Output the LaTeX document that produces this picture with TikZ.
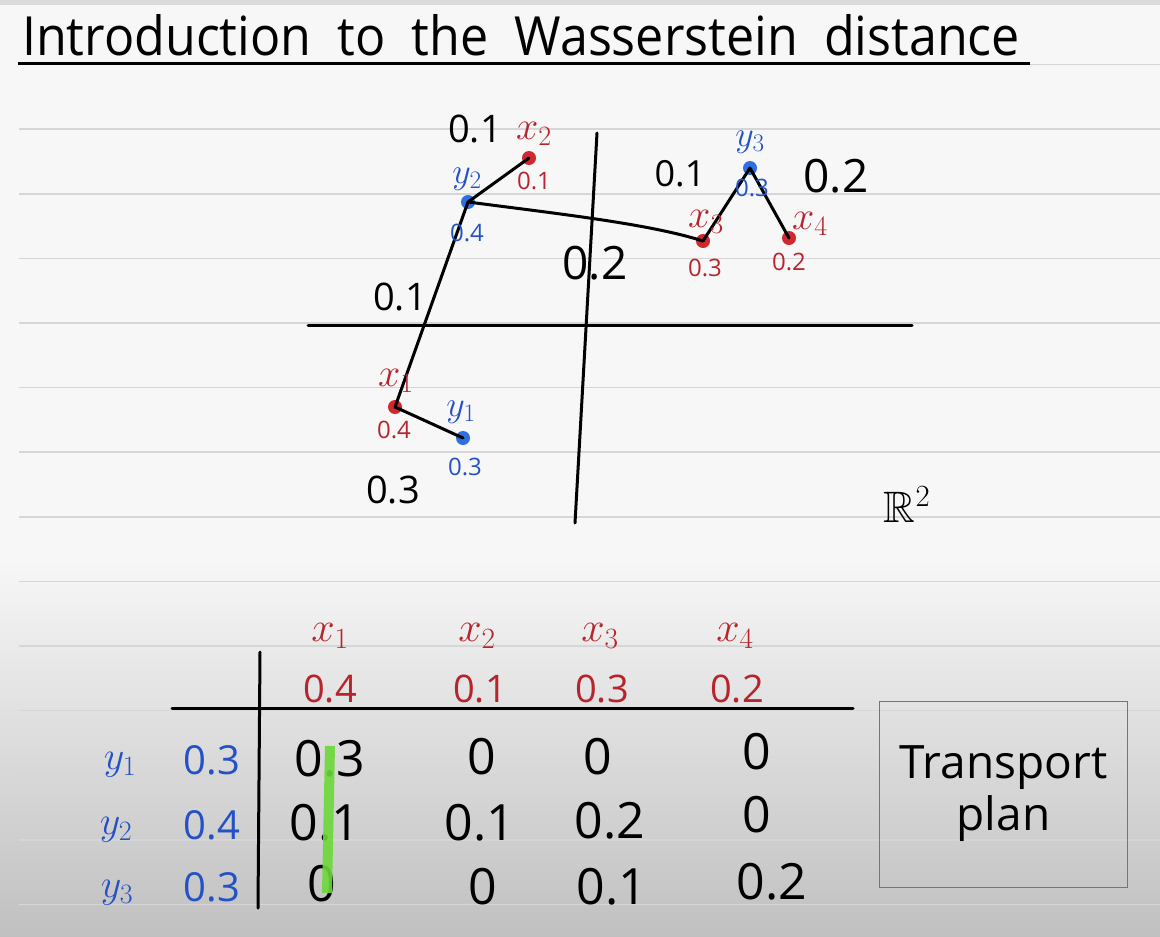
\RequirePackage{fix-cm}
\documentclass[tikz,border=0pt]{standalone}
\usepackage{amssymb}
\usepackage{fontspec}
\setmainfont{Open Sans}
\usetikzlibrary{positioning, calc}
\definecolor{inkred}{HTML}{B8242C}
\definecolor{inkblue}{HTML}{2452C4}
\definecolor{dotred}{HTML}{D0282C}
\definecolor{dotblue}{HTML}{2F6FE0}
\definecolor{hilite}{HTML}{6CD83A}
\definecolor{boxred}{HTML}{E0464C}
\definecolor{paper}{HTML}{F7F7F7}
\definecolor{paperlow}{HTML}{C0C0C0}
\newcommand{\handsz}[1]{\fontsize{#1}{#1}\selectfont}

\begin{document}
\begin{tikzpicture}[x=1pt, y=-1pt,
    dot/.style={circle, inner sep=0pt, minimum size=14pt},
    xdot/.style={dot, fill=dotred},
    ydot/.style={dot, fill=dotblue},
    edge/.style={black, line width=3pt, line cap=round},
    axis/.style={black, line width=3pt, line cap=round},
    rule/.style={black!16, line width=1.6pt},
    lbl/.style={inner sep=0pt, outer sep=0pt},
    wt/.style={lbl, font=\handsz{38}},
    bigwt/.style={lbl, font=\handsz{46}},
    xvar/.style={lbl, text=inkred, font=\handsz{40}},
    yvar/.style={lbl, text=inkblue, font=\handsz{36}},
    xmass/.style={lbl, text=inkred, font=\handsz{24}},
    ymass/.style={lbl, text=inkblue, font=\handsz{24}},
    hmass/.style={lbl, text=inkred, font=\handsz{38}},
    rmass/.style={lbl, text=inkblue, font=\handsz{40}},
    cell/.style={lbl, font=\handsz{50}}
]
\useasboundingbox (0,0) rectangle (1160,937);

% --- Paper ---
\fill[paper] (0,0) rectangle (1160,937);
\shade[top color=paper, bottom color=paperlow] (0,560) rectangle (1160,937);
\fill[black!14] (0,0) rectangle (1160,5);
\foreach \k in {0,...,13}
  \draw[rule] (19,64.5+64.6*\k) -- (1160,64.5+64.6*\k);

% --- Title ---
\node[lbl, anchor=base west, font=\handsz{54}, xscale=0.93] (title) at (22,55)
      {Introduction\ \ to\ \ the\ \ Wasserstein\ \ distance};
\draw[line width=3pt] (18,63) -- (1030,63);

% --- Axes of R^2 ---
\coordinate (xa) at (308,325);
\coordinate (xb) at (912,325);
\coordinate (ya) at (597,133);
\coordinate (yb) at (575,523);
\draw[axis] (xa) -- (xb);
\draw[axis] (ya) -- (yb);
\node[lbl, font=\handsz{44}] (rr) at (907,505) {$\mathbb{R}^2$};

% --- Points ---
\node[xdot] (x1) at (395,407) {};
\node[xdot] (x2) at (529,158) {};
\node[xdot] (x3) at (703,241) {};
\node[xdot] (x4) at (789,238) {};
\node[ydot] (y1) at (463,438) {};
\node[ydot] (y2) at (468,202) {};
\node[ydot] (y3) at (750,168) {};

% --- Transport connections ---
\draw[edge] (x1.center) -- (y1.center);
\draw[edge] (y2.center) -- (x1.center);
\draw[edge] (y2.center) -- (x2.center);
\draw[edge] (y2.center) .. controls (560,214) and (650,224) .. (x3.center);
\draw[edge] (x3.center) -- (y3.center);
\draw[edge] (y3.center) -- (x4.center);

% --- Point labels ---
\node[xvar] (lx1) at (396,381) {$x_1$};
\node[xvar] (lx2) at (534,134) {$x_2$};
\node[xvar] (lx3) at (706,222) {$x_3$};
\node[xvar] (lx4) at (810,224) {$x_4$};
\node[yvar] (ly1) at (461,412) {$y_1$};
\node[yvar] (ly2) at (467,179) {$y_2$};
\node[yvar] (ly3) at (750,142) {$y_3$};
\node[xmass] (mx1) at (394,430) {0.4};
\node[xmass] (mx2) at (534,181) {0.1};
\node[xmass] (mx3) at (705,268) {0.3};
\node[xmass] (mx4) at (789,262) {0.2};
\node[ymass] (my1) at (465,467) {0.3};
\node[ymass] (my2) at (467,233) {0.4};
\node[ymass] (my3) at (752,188) {0.3};

% --- Transported amounts ---
\node[wt] (w12) at (475,129) {0.1};
\node[wt] (w21) at (400,297) {0.1};
\node[bigwt] (w23) at (595,263) {0.2};
\node[wt, font=\handsz{36}] (w33) at (680,174) {0.1};
\node[bigwt] (w34) at (836,176) {0.2};
\node[wt] (w11) at (393,490) {0.3};

% --- Transport plan table ---
\draw[axis] (172,708) -- (853,708);
\draw[axis] (260,652) -- (258,908);
\node[xvar, font=\handsz{42}] (hx1) at (330,636) {$x_1$};
\node[xvar, font=\handsz{42}] (hx2) at (477,636) {$x_2$};
\node[xvar, font=\handsz{42}] (hx3) at (600,636) {$x_3$};
\node[xvar, font=\handsz{42}] (hx4) at (735,636) {$x_4$};
\node[hmass] (hm1) at (330,689) {0.4};
\node[hmass] (hm2) at (480,689) {0.1};
\node[hmass] (hm3) at (602,689) {0.3};
\node[hmass] (hm4) at (737,689) {0.2};
\node[yvar, font=\handsz{40}] (ry1) at (120,765) {$y_1$};
\node[yvar, font=\handsz{40}] (ry2) at (116,830) {$y_2$};
\node[yvar, font=\handsz{40}] (ry3) at (117,893) {$y_3$};
\node[rmass] (rm1) at (212,760) {0.3};
\node[rmass] (rm2) at (212,825) {0.4};
\node[rmass] (rm3) at (212,887) {0.3};

\node[cell] (c11) at (330,759) {0.3};
\node[cell] (c12) at (482,757) {0};
\node[cell] (c13) at (598,757) {0};
\node[cell] (c14) at (757,752) {0};
\node[cell] (c21) at (325,823) {0.1};
\node[cell] (c22) at (480,823) {0.1};
\node[cell] (c23) at (610,821) {0.2};
\node[cell] (c24) at (757,815) {0};
\node[cell] (c31) at (322,884) {0};
\node[cell] (c32) at (483,887) {0};
\node[cell] (c33) at (612,887) {0.1};
\node[cell] (c34) at (772,882) {0.2};

% --- Highlight of first column ---
\draw[hilite, line width=10pt, opacity=0.9] (330,746) -- (327,893);

% --- Caption box ---
\node[draw=boxred, line width=1pt, minimum width=248pt, minimum height=186pt,
      inner sep=0pt] (plan) at (1003.5,794) {};
\node[lbl, font=\handsz{46}, align=center] (plantxt) at (plan.center)
      {Transport\\[6pt]plan};
\end{tikzpicture}
\end{document}
